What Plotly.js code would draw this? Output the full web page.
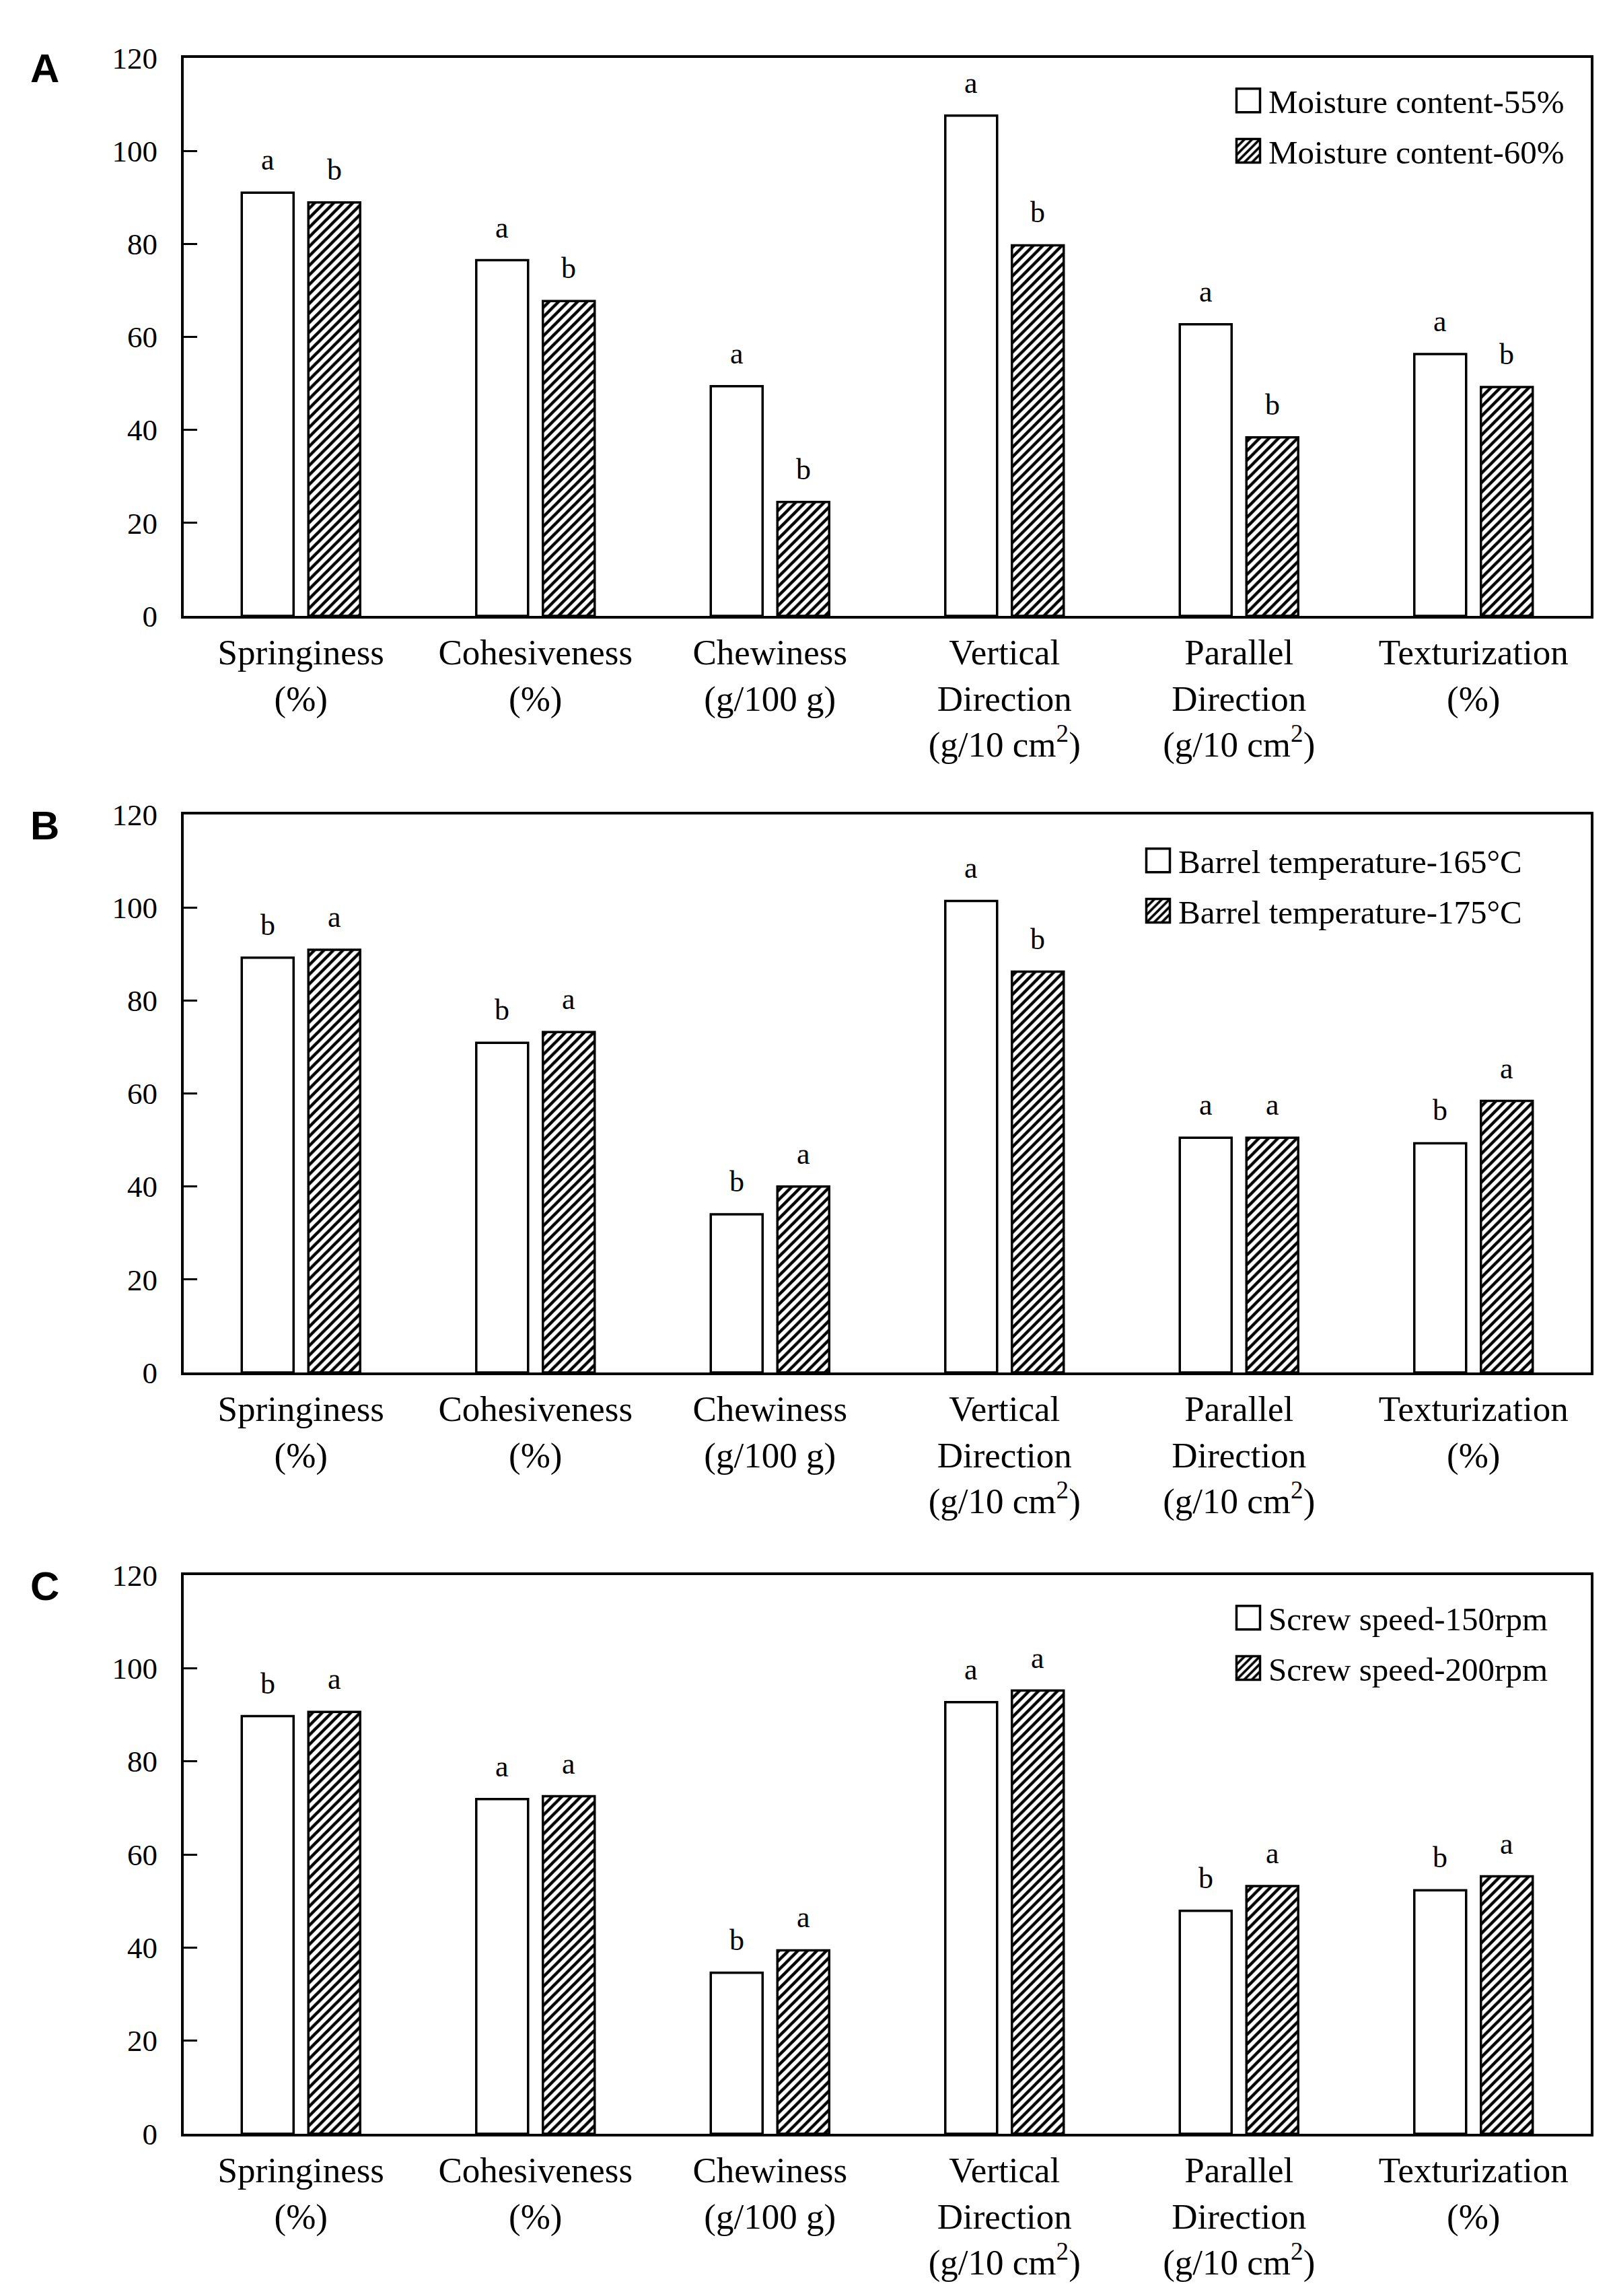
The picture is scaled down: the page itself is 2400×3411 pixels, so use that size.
<!DOCTYPE html>
<html>
<head>
<meta charset="utf-8">
<script src="https://cdn.plot.ly/plotly-3.0.1.min.js"></script>
<style>html,body{margin:0;padding:0;background:#fff}</style>
</head>
<body>
<div id="chart" style="width:2400px;height:3411px"></div>
<script>
// ---------- data ----------
const categories = [
  'Springiness<br>(%)',
  'Cohesiveness<br>(%)',
  'Chewiness<br>(g/100 g)',
  'Vertical<br>Direction<br>(g/10 cm<sup>2</sup>)',
  'Parallel<br>Direction<br>(g/10 cm<sup>2</sup>)',
  'Texturization<br>(%)'
];

// Panel A: moisture content
const namesA = ['Moisture content-55%', 'Moisture content-60%'];
const moist55 = [91.0, 76.5, 49.4, 107.6, 62.7, 56.3];
const moist60 = [88.9, 67.7, 24.5, 79.7, 38.4, 49.2];
const moist55Letters = ['a', 'a', 'a', 'a', 'a', 'a'];
const moist60Letters = ['b', 'b', 'b', 'b', 'b', 'b'];

// Panel B: barrel temperature
const namesB = ['Barrel temperature-165°C', 'Barrel temperature-175°C'];
const temp165 = [89.2, 70.9, 34.0, 101.4, 50.5, 49.3];
const temp175 = [90.9, 73.2, 40.0, 86.2, 50.5, 58.4];
const temp165Letters = ['b', 'b', 'b', 'a', 'a', 'b'];
const temp175Letters = ['a', 'a', 'a', 'b', 'a', 'a'];

// Panel C: screw speed
const namesC = ['Screw speed-150rpm', 'Screw speed-200rpm'];
const speed150 = [89.7, 71.9, 34.6, 92.7, 47.9, 52.3];
const speed200 = [90.6, 72.5, 39.4, 95.2, 53.2, 55.3];
const speed150Letters = ['b', 'a', 'b', 'a', 'b', 'b'];
const speed200Letters = ['a', 'a', 'a', 'a', 'a', 'a'];

const panelLabels = ['A', 'B', 'C'];
const yTicks = [0, 20, 40, 60, 80, 100, 120];

// ---------- geometry / style ----------
const W = 2400, H = 3411;
const SERIF = 'Liberation Serif, Times New Roman, serif';
const SANS = 'Liberation Sans, Arial, sans-serif';
const xDom = [273 / W, 2364 / W];
const panelsPx = [[86, 915], [1210, 2039], [2340, 3170]]; // top, bottom (px)
const legendPx = [[1825, 111], [1691, 1240], [1825, 2365]];
const barOffsetPx = 49.5;

const panels = [
  {open: moist55, hatch: moist60, lo: moist55Letters, lh: moist60Letters, names: namesA},
  {open: temp165, hatch: temp175, lo: temp165Letters, lh: temp175Letters, names: namesB},
  {open: speed150, hatch: speed200, lo: speed150Letters, lh: speed200Letters, names: namesC}
];

const data = [];
const layout = {
  width: W, height: H,
  margin: {l: 0, r: 0, t: 0, b: 0},
  paper_bgcolor: 'white', plot_bgcolor: 'white',
  barmode: 'group', bargap: 0.432, bargroupgap: 0.222,
  font: {family: SERIF, color: 'black'},
  showlegend: true,
  annotations: []
};

panels.forEach((p, i) => {
  const sfx = i === 0 ? '' : String(i + 1);
  const xa = 'x' + sfx, ya = 'y' + sfx;
  const lg = 'legend' + sfx;
  const [topPx, botPx] = panelsPx[i];
  const yDom = [1 - botPx / H, 1 - topPx / H];

  const lineStyle = {color: 'black', width: 3.5};
  data.push({
    type: 'bar', x: categories, y: p.open, name: p.names[0],
    xaxis: xa, yaxis: ya, legend: lg, legendgroup: 'g' + i + 'a',
    marker: {color: 'white', line: lineStyle},
    hoverinfo: 'skip'
  });
  data.push({
    type: 'bar', x: categories, y: p.hatch, name: p.names[1],
    xaxis: xa, yaxis: ya, legend: lg, legendgroup: 'g' + i + 'b',
    marker: {color: 'white', line: lineStyle,
      pattern: {shape: '/', fgcolor: 'black', bgcolor: 'white', size: 10, solidity: 0.45}},
    hoverinfo: 'skip'
  });

  layout['xaxis' + sfx] = {
    domain: xDom, anchor: ya, type: 'category',
    range: [-0.5, categories.length - 0.5],
    showline: true, mirror: true, linecolor: 'black', linewidth: 4,
    ticks: '', showgrid: false, zeroline: false,
    tickfont: {family: SERIF, size: 53, color: 'black'},
    ticklabelstandoff: 4,
    fixedrange: true
  };
  layout['yaxis' + sfx] = {
    domain: yDom, anchor: xa,
    range: [0, 120], tickvals: yTicks,
    showline: true, mirror: true, linecolor: 'black', linewidth: 4,
    ticks: 'inside', ticklen: 20, tickwidth: 3, tickcolor: 'black',
    showgrid: false, zeroline: false,
    tickfont: {family: SERIF, size: 45, color: 'black'},
    ticklabelstandoff: 26,
    fixedrange: true
  };
  layout[lg] = {
    x: legendPx[i][0] / W, y: 1 - legendPx[i][1] / H,
    xanchor: 'left', yanchor: 'top',
    bgcolor: 'rgba(0,0,0,0)', borderwidth: 0,
    font: {family: SERIF, size: 49, color: 'black'},
    itemwidth: 50,
    tracegroupgap: 8, itemclick: false, itemdoubleclick: false
  };

  // significance letters
  categories.forEach((c, k) => {
    [[p.open, p.lo, -barOffsetPx], [p.hatch, p.lh, barOffsetPx]].forEach(([vals, lets, dx]) => {
      layout.annotations.push({
        xref: xa, yref: ya, x: k, y: vals[k],
        text: lets[k], showarrow: false,
        xanchor: 'center', yanchor: 'bottom',
        xshift: dx, yshift: 22,
        font: {family: SERIF, size: 44, color: 'black'}
      });
    });
  });

  // panel letter
  layout.annotations.push({
    xref: 'paper', yref: 'paper', x: 66 / W, y: 1 - (topPx + 16) / H,
    text: '<b>' + panelLabels[i] + '</b>', showarrow: false,
    xanchor: 'center', yanchor: 'middle',
    font: {family: SANS, size: 60, color: 'black'}
  });
});

Plotly.newPlot('chart', data, layout, {staticPlot: true, displayModeBar: false}).then(gd => {
  // enlarge the legend swatches to match the reference key size
  gd.querySelectorAll('g.legendpoints path').forEach(el => {
    el.setAttribute('d', 'M17.5,17.5H-17.5V-17.5H17.5Z');
    el.style.strokeWidth = '3.5px';
    el.style.stroke = 'black';
  });
});
</script>
</body>
</html>
